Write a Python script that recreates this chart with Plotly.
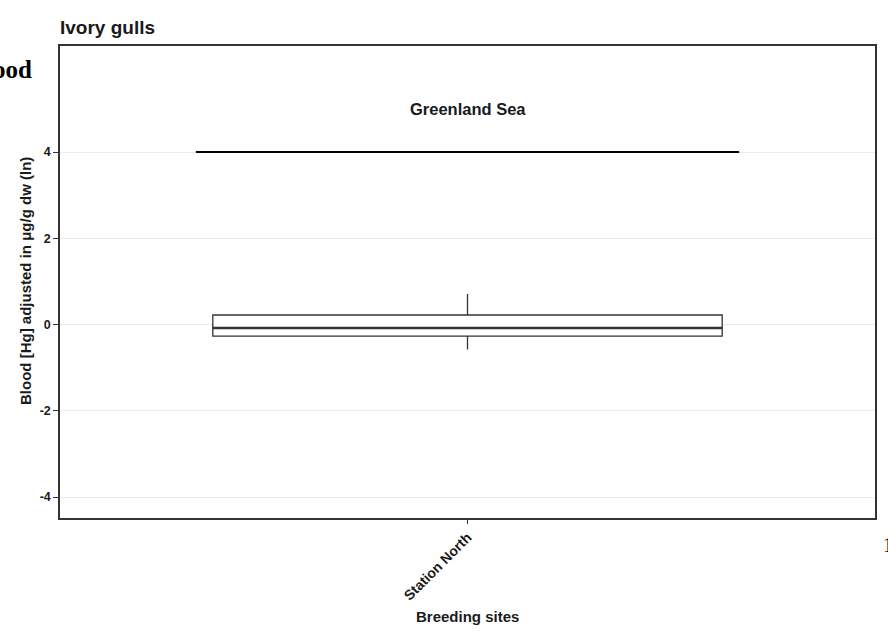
import plotly.graph_objects as go

# Data
site_labels = ["Station North"]
site_pos = [0]
q1_vals = [-0.27]
median_vals = [-0.08]
q3_vals = [0.22]
lower_vals = [-0.58]
upper_vals = [0.71]
ref_level = [4, 4]
ref_x = [-0.4, 0.4]
region_label = "Greenland Sea"
region_y = 5.0
y_ticks = [-4, -2, 0, 2, 4]

FONT = "Liberation Sans, Arial, sans-serif"
SERIF = "Liberation Serif, Times New Roman, serif"
DARK = "#333333"
TXT = "#1a1a1a"
box_w = 0.75

W, H = 888, 637
L, R, T, B = 60, 13, 46, 119
PW, PH = W - L - R, H - T - B


def px_x(px):
    return (px - L) / PW


def px_y(py):
    return (H - B - py) / PH


fig = go.Figure()

fig.add_trace(go.Box(
    x=site_pos, q1=q1_vals, median=median_vals, q3=q3_vals,
    lowerfence=lower_vals, upperfence=upper_vals,
    width=box_w, fillcolor="white",
    line=dict(color=DARK, width=1.3),
    whiskerwidth=0, boxpoints=False, showlegend=False, hoverinfo="skip",
))

# thicker median line (ggplot style)
for p, m in zip(site_pos, median_vals):
    fig.add_trace(go.Scatter(
        x=[p - box_w / 2, p + box_w / 2], y=[m, m], mode="lines",
        line=dict(color=DARK, width=2.6), showlegend=False, hoverinfo="skip",
    ))

fig.add_trace(go.Scatter(
    x=ref_x, y=ref_level, mode="lines",
    line=dict(color="black", width=2.2), showlegend=False, hoverinfo="skip",
))

fig.add_annotation(x=site_pos[0], y=region_y, text="<b>" + region_label + "</b>",
                   showarrow=False, font=dict(family=FONT, size=16.5, color=TXT))

# axis titles
fig.add_annotation(xref="paper", yref="paper", x=px_x(467), y=px_y(616),
                   xanchor="center", yanchor="middle", showarrow=False,
                   text="<b>Breeding sites</b>", font=dict(family=FONT, size=15, color=TXT))
fig.add_annotation(xref="paper", yref="paper", x=px_x(25), y=px_y(281),
                   xanchor="center", yanchor="middle", showarrow=False, textangle=-90,
                   text="<b>Blood [Hg] adjusted in μg/g dw (ln)</b>",
                   font=dict(family=FONT, size=15, color=TXT))

# fragments of surrounding page
fig.add_annotation(xref="paper", yref="paper", x=px_x(34), y=px_y(69), xanchor="right", yanchor="middle",
                   text="<b>ood</b>", showarrow=False,
                   font=dict(family=SERIF, size=25, color="black"))
fig.add_annotation(xref="paper", yref="paper", x=px_x(881), y=px_y(545), xanchor="left", yanchor="middle",
                   text="1", showarrow=False,
                   font=dict(family=SERIF, size=20, color="black"))

fig.update_layout(
    width=W, height=H,
    margin=dict(l=L, r=R, t=T, b=B, autoexpand=False),
    paper_bgcolor="white", plot_bgcolor="white",
    title=dict(text="<b>Ivory gulls</b>", x=L / W, xref="container", xanchor="left",
               y=1 - 27 / H, yanchor="middle",
               font=dict(family=FONT, size=19, color=TXT)),
    font=dict(family=FONT, color=TXT),
)

fig.update_xaxes(
    range=[-0.6, 0.6], tickvals=site_pos, ticktext=["<b>" + s + "</b>" for s in site_labels],
    tickangle=-45, ticks="outside", ticklen=4, tickcolor=DARK, tickwidth=1.2,
    tickfont=dict(family=FONT, size=14, color=TXT),
    showgrid=False, zeroline=False, automargin=False,
    showline=True, linecolor=DARK, linewidth=1.5, mirror=True,
)
fig.update_yaxes(
    range=[-4.487, 6.458], tickvals=y_ticks, ticktext=["<b>%d</b>" % v for v in y_ticks],
    ticks="outside", ticklen=5, tickcolor=DARK, tickwidth=1.2,
    tickfont=dict(family=FONT, size=12.5, color=TXT),
    showgrid=True, gridcolor="#ebebeb", gridwidth=1.2, zeroline=False, automargin=False,
    showline=True, linecolor=DARK, linewidth=1.5, mirror=True,
)

fig.write_html("out.html", config={"displayModeBar": False},
               post_script="document.body.style.margin='0px';document.body.style.overflow='hidden';")
